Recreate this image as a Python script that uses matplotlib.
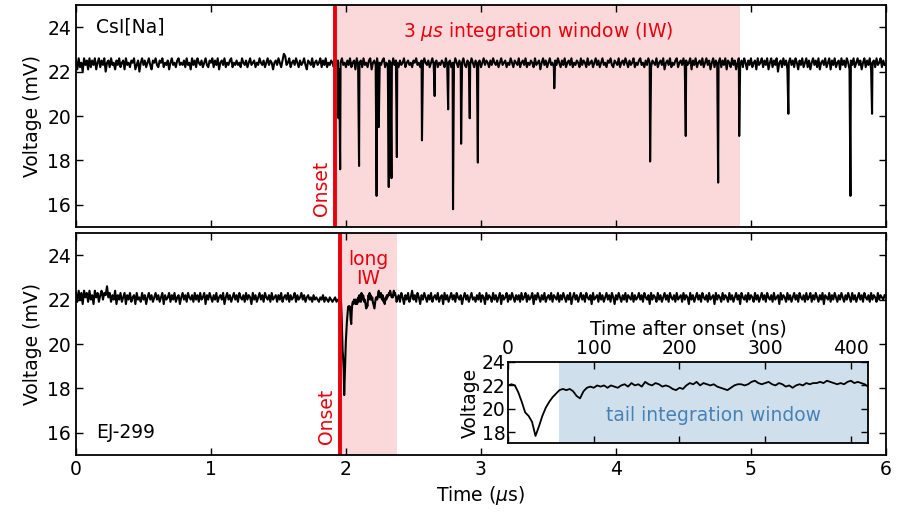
# CsI[Na] vs EJ-299 pulses with integration windows

import numpy as np
import matplotlib.pyplot as plt

# CsI[Na] trace: baseline samples every 10 ns from 0 to 5.99 us (mV)
csi_base = [
    22.5,22.1,22.6,22.2,22.4,22.0,22.6,22.3,22.5,22.1,22.6,22.2,22.5,22.3,22.6,22.1,22.4,22.6,22.2,22.5,22.3,22.6,22.0,22.4,22.5,22.2,22.6,22.3,22.4,22.1,
    22.5,22.3,22.6,22.2,22.4,22.5,22.1,22.6,22.3,22.4,22.2,22.5,22.4,22.6,22.1,22.3,22.5,22.0,22.4,22.6,22.3,22.5,22.2,22.4,22.6,22.3,22.1,22.5,22.4,22.6,
    22.3,22.2,22.5,22.4,22.6,22.2,22.4,22.3,22.5,22.1,22.4,22.6,22.3,22.4,22.2,22.5,22.6,22.3,22.4,22.3,22.5,22.2,22.6,22.3,22.4,22.1,22.6,22.3,22.5,22.2,
    22.6,22.4,22.3,22.5,22.2,22.4,22.6,22.3,22.2,22.5,22.4,22.6,22.2,22.5,22.3,22.6,22.1,22.4,22.5,22.3,22.6,22.2,22.4,22.3,22.5,22.6,22.2,22.4,22.3,22.5,
    22.3,22.4,22.2,22.6,22.4,22.3,22.5,22.2,22.4,22.6,22.3,22.4,22.5,22.2,22.4,22.3,22.6,22.4,22.3,22.5,22.2,22.4,22.6,22.3,22.5,22.4,22.1,22.4,22.5,22.3,
    22.6,22.4,22.2,22.5,22.8,22.7,22.3,22.4,22.6,22.2,22.4,22.5,22.3,22.6,22.4,22.2,22.5,22.3,22.4,22.6,22.3,22.1,22.5,22.4,22.3,22.6,22.2,22.4,22.5,22.3,
    22.4,22.6,22.2,22.5,22.3,22.6,22.2,22.4,22.3,22.5,22.4,22.2,22.6,22.3,22.5,22.1,22.4,22.6,22.3,22.4,22.2,22.5,22.3,22.6,22.2,22.4,22.5,22.1,22.6,22.3,
    22.4,22.5,22.2,22.6,22.3,22.4,22.2,22.5,22.6,22.1,22.4,22.5,22.3,22.6,22.2,22.4,22.3,22.5,22.6,22.2,22.4,22.3,22.5,22.4,22.2,22.6,22.3,22.5,22.4,22.2,
    22.5,22.3,22.4,22.6,22.2,22.4,22.5,22.3,22.4,22.2,22.5,22.4,22.6,22.3,22.4,22.2,22.5,22.3,22.6,22.4,22.3,22.5,22.2,22.4,22.6,22.3,22.4,22.5,22.2,22.4,
    22.3,22.5,22.4,22.2,22.6,22.3,22.4,22.5,22.2,22.4,22.3,22.6,22.4,22.2,22.5,22.3,22.4,22.6,22.3,22.2,22.5,22.4,22.3,22.6,22.4,22.2,22.5,22.3,22.4,22.5,
    22.2,22.4,22.6,22.3,22.5,22.4,22.2,22.5,22.3,22.6,22.4,22.3,22.5,22.2,22.4,22.6,22.3,22.4,22.5,22.2,22.4,22.3,22.6,22.4,22.2,22.5,22.4,22.3,22.6,22.2,
    22.4,22.5,22.3,22.6,22.2,22.4,22.3,22.5,22.4,22.2,22.6,22.3,22.4,22.5,22.1,22.4,22.6,22.3,22.5,22.2,22.4,22.6,22.3,22.4,22.2,22.5,22.3,22.6,22.4,22.2,
    22.5,22.3,22.6,22.2,22.4,22.5,22.3,22.6,22.2,22.4,22.3,22.5,22.4,22.2,22.6,22.3,22.5,22.4,22.2,22.6,22.3,22.4,22.5,22.2,22.4,22.6,22.3,22.5,22.2,22.4,
    22.6,22.3,22.4,22.2,22.5,22.4,22.6,22.3,22.2,22.5,22.4,22.3,22.6,22.2,22.4,22.5,22.3,22.6,22.4,22.2,22.5,22.3,22.4,22.6,22.2,22.4,22.3,22.5,22.6,22.3,
    22.4,22.2,22.5,22.3,22.6,22.4,22.2,22.5,22.4,22.3,22.6,22.2,22.4,22.5,22.3,22.6,22.1,22.4,22.5,22.3,22.6,22.2,22.4,22.3,22.5,22.6,22.2,22.4,22.5,22.3,
    22.6,22.2,22.5,22.3,22.4,22.6,22.1,22.5,22.3,22.6,22.2,22.4,22.5,22.3,22.6,22.2,22.4,22.6,22.3,22.5,22.1,22.4,22.6,22.2,22.5,22.3,22.4,22.6,22.2,22.5,
    22.3,22.6,22.1,22.5,22.4,22.2,22.6,22.3,22.5,22.1,22.4,22.6,22.3,22.5,22.2,22.6,22.4,22.1,22.5,22.3,22.6,22.2,22.4,22.5,22.1,22.6,22.3,22.4,22.6,22.2,
    22.5,22.3,22.6,22.1,22.4,22.6,22.2,22.5,22.3,22.6,22.0,22.4,22.5,22.2,22.6,22.3,22.5,22.1,22.4,22.6,22.3,22.5,22.2,22.6,22.4,22.1,22.5,22.3,22.6,22.2,
    22.4,22.6,22.2,22.5,22.1,22.4,22.6,22.3,22.5,22.2,22.6,22.1,22.4,22.5,22.3,22.6,22.2,22.4,22.6,22.1,22.5,22.3,22.6,22.2,22.4,22.5,22.1,22.6,22.3,22.5,
    22.2,22.6,22.4,22.1,22.5,22.3,22.6,22.2,22.4,22.6,22.3,22.5,22.1,22.4,22.6,22.2,22.5,22.3,22.6,22.1,22.4,22.5,22.2,22.6,22.3,22.4,22.6,22.2,22.5,22.3,
]
# single-photon spikes in the CsI[Na] trace (us, mV)
csi_spike_t = [1.945, 1.957, 2.097, 2.227, 2.243, 2.317, 2.337, 2.377, 2.563, 2.657, 2.757, 2.793,
               2.853, 2.917, 2.977, 3.543, 4.253, 4.517, 4.757, 4.913, 5.277, 5.737, 5.897]
csi_spike_v = [19.9, 17.6, 17.75, 16.4, 19.5, 16.8, 17.2, 18.15, 18.9, 20.9, 20.3, 15.8,
               18.75, 19.9, 17.9, 21.25, 17.95, 19.1, 17.0, 19.1, 20.1, 16.4, 20.1]

# EJ-299 trace: before onset (0 - 1.94 us, 10 ns steps)
ej_pre = [
    22.3,21.9,22.4,22.0,22.3,21.8,22.4,22.1,22.3,21.9,22.4,22.0,22.2,21.8,22.4,22.1,22.3,21.9,22.2,22.4,22.0,22.3,22.2,22.6,22.1,22.3,21.9,22.2,22.0,22.4,
    21.8,22.2,22.0,22.3,21.9,22.1,22.3,21.8,22.2,22.0,22.3,21.9,22.1,22.2,21.8,22.3,22.0,22.1,21.9,22.3,22.0,22.2,21.8,22.1,22.3,22.0,22.2,21.9,22.1,22.3,
    22.0,22.2,21.9,22.1,22.3,21.8,22.2,22.0,22.1,22.3,21.9,22.2,22.0,22.3,21.9,22.1,22.2,21.8,22.1,22.3,22.0,22.2,21.9,22.3,22.1,22.0,22.2,21.9,22.3,22.0,
    22.2,21.9,22.3,22.0,22.1,22.3,21.8,22.2,22.0,22.3,22.1,21.9,22.2,22.0,22.3,21.9,22.1,22.2,22.0,22.3,21.8,22.1,22.3,22.0,22.2,21.9,22.1,22.3,22.0,22.2,
    21.9,22.3,22.1,22.0,22.2,21.9,22.3,22.0,22.2,22.1,21.8,22.3,22.0,22.2,21.9,22.1,22.3,22.0,22.2,21.9,22.3,22.1,22.0,22.2,21.9,22.3,22.0,22.1,22.2,21.9,
    22.2,22.0,22.3,21.9,22.1,22.2,22.0,22.3,21.9,22.2,22.0,22.1,22.3,21.9,22.2,22.0,22.1,22.3,22.0,22.2,21.9,22.1,22.2,22.0,22.1,21.9,22.2,22.0,22.1,22.0,
    21.9,22.1,22.0,22.2,21.9,22.1,22.0,21.9,22.1,22.0,21.9,22.0,22.1,21.9,22.0,
]
# EJ-299 pulse after onset (0 - 420 ns, 4 ns steps)
ej_pulse = [
    22.0, 22.1, 22.0, 21.4, 20.6, 19.7, 19.4, 18.9, 17.7, 18.5, 19.4, 20.1, 20.6, 21.0, 21.3, 21.6,
    21.7, 21.6, 21.7, 21.5, 21.1, 20.9, 21.5, 21.8, 21.9, 21.8, 22.0, 21.9, 22.0, 21.8, 22.0, 21.9,
    21.8, 22.0, 22.1, 21.9, 22.2, 22.0, 22.1, 21.9, 22.3, 22.1, 22.0, 22.2, 22.1, 21.9, 22.0, 21.9,
    21.7, 21.6, 21.8, 21.7, 22.0, 22.2, 22.1, 22.3, 22.0, 22.2, 22.1, 22.0, 22.1, 21.9, 21.8, 21.7,
    21.6, 21.8, 22.0, 22.1, 22.1, 22.0, 22.1, 22.3, 22.4, 22.2, 22.1, 22.2, 22.3, 22.1, 22.0, 22.2,
    22.1, 21.9, 22.0, 21.8, 22.0, 22.1, 22.0, 22.2, 22.1, 22.2, 22.2, 22.3, 22.2, 22.4, 22.3, 22.2,
    22.1, 22.2, 22.1, 22.3, 22.4, 22.2, 22.3, 22.2, 22.1, 21.9,
]
# EJ-299 after the long IW (2.38 - 5.99 us, 10 ns steps)
ej_post = [
    22.0,22.2,21.9,22.3,22.1,21.8,22.2,22.0,22.3,21.9,22.1,22.4,22.0,22.2,21.9,22.3,22.1,21.8,22.2,22.0,22.3,22.1,21.9,22.2,22.0,22.3,21.9,22.1,22.2,22.0,
    22.3,21.9,22.1,22.2,21.8,22.3,22.0,22.2,21.9,22.1,22.3,22.0,22.2,21.9,22.3,22.1,22.0,22.2,21.8,22.1,22.3,22.0,22.2,21.9,22.1,22.3,22.0,22.1,21.9,22.2,
    22.0,22.3,21.9,22.2,22.1,21.8,22.3,22.0,22.2,22.1,21.9,22.3,22.0,22.2,21.9,22.1,22.3,21.8,22.2,22.0,22.1,22.3,21.9,22.2,22.0,22.3,22.1,21.9,22.2,22.0,
    22.2,21.9,22.3,22.0,22.1,22.3,21.9,22.2,22.0,22.1,22.3,21.8,22.2,22.0,22.3,22.1,21.9,22.2,22.0,22.3,21.9,22.1,22.2,22.0,22.3,21.9,22.2,22.1,22.0,22.3,
    21.9,22.2,22.0,22.3,22.1,21.9,22.2,22.0,22.3,21.8,22.1,22.3,22.0,22.2,21.9,22.1,22.3,22.0,22.2,21.9,22.3,22.1,22.0,22.2,21.8,22.3,22.0,22.1,22.2,21.9,
    22.3,22.0,22.2,21.9,22.1,22.3,22.0,22.2,21.9,22.3,22.1,21.8,22.2,22.0,22.3,22.1,21.9,22.2,22.0,22.3,21.9,22.2,22.1,22.0,22.3,21.9,22.2,22.0,22.1,22.3,
    22.0,22.2,21.9,22.3,22.1,22.0,22.2,21.8,22.3,22.0,22.2,22.1,21.9,22.3,22.0,22.2,21.9,22.1,22.3,22.0,22.2,21.9,22.3,22.1,22.0,22.2,21.9,22.3,22.0,22.1,
    22.2,21.9,22.3,22.0,22.2,22.1,21.8,22.3,22.0,22.2,21.9,22.1,22.3,22.0,22.2,21.9,22.3,22.1,22.0,22.2,21.9,22.3,22.0,22.1,22.2,21.8,22.3,22.0,22.2,22.1,
    21.9,22.3,22.0,22.2,22.1,21.9,22.3,22.0,22.2,21.9,22.1,22.3,22.0,22.2,21.8,22.3,22.1,22.0,22.2,21.9,22.3,22.0,22.2,22.1,21.9,22.3,22.0,22.2,21.9,22.1,
    22.3,22.0,22.2,21.9,22.3,22.1,22.0,22.2,21.9,22.3,22.0,22.1,22.2,21.8,22.3,22.0,22.2,22.1,21.9,22.3,22.0,22.2,21.9,22.1,22.3,22.0,22.2,21.9,22.3,22.1,
    22.0,22.2,21.9,22.3,22.0,22.1,22.3,21.9,22.2,22.0,22.3,22.1,21.9,22.2,22.0,22.3,21.8,22.2,22.1,22.0,22.3,21.9,22.2,22.0,22.3,22.1,21.9,22.2,22.0,22.3,
    22.1,21.9,22.2,22.0,22.3,22.1,21.9,22.3,22.0,22.2,21.9,22.1,22.3,22.0,22.2,21.9,22.3,22.1,22.0,22.2,21.9,22.3,22.0,22.2,22.1,21.9,22.3,22.0,22.2,22.1,
    22.0,22.2,
]

csi_onset = 1.92     # us
csi_window = 3.0     # us
ej_onset = 1.955     # us
ej_long_iw = 0.42    # us
tail_start = 60      # ns

# assemble time axes
t_csi = np.concatenate([np.arange(len(csi_base)) * 0.01, csi_spike_t])
v_csi = np.concatenate([csi_base, csi_spike_v])
order = np.argsort(t_csi)
t_csi, v_csi = t_csi[order], v_csi[order]

ns_pulse = np.arange(len(ej_pulse)) * 4
t_ej = np.concatenate([np.arange(len(ej_pre)) * 0.01,
                       ej_onset + ns_pulse / 1000.0,
                       2.38 + np.arange(len(ej_post)) * 0.01])
v_ej = np.concatenate([ej_pre, ej_pulse, ej_post])

red = '#e8000b'
fs = 13.5

fig = plt.figure(figsize=(9, 5.18), dpi=100)
ax1 = fig.add_axes([0.0844, 0.5618, 0.9, 0.4285])
ax2 = fig.add_axes([0.0844, 0.1216, 0.9, 0.4286])

for ax in (ax1, ax2):
    ax.set_xlim(0, 6)
    ax.set_ylim(15, 25)
    ax.set_yticks([16, 18, 20, 22, 24])
    ax.tick_params(direction='in', top=True, right=True, labelsize=fs, length=5, width=1)
    ax.set_ylabel('Voltage (mV)', fontsize=fs)
    for s in ax.spines.values():
        s.set_linewidth(1.3)
ax1.tick_params(labelbottom=False)

# top panel
ax1.axvspan(csi_onset, csi_onset + csi_window, color=red, alpha=0.15, lw=0)
ax1.plot(t_csi, v_csi, color='black', lw=1.5)
ax1.axvline(csi_onset, color=red, lw=2.8)
ax1.text(csi_onset - 0.03, 15.5, 'Onset', rotation=90, color=red, fontsize=fs,
         ha='right', va='bottom')
ax1.text(csi_onset + csi_window / 2, 23.8, r'3 $\mu s$ integration window (IW)',
         color=red, fontsize=fs, ha='center', va='center')
ax1.text(0.025, 0.9, 'CsI[Na]', transform=ax1.transAxes, fontsize=fs, va='center')

# bottom panel
ax2.axvspan(ej_onset, ej_onset + ej_long_iw, color=red, alpha=0.15, lw=0)
ax2.plot(t_ej, v_ej, color='black', lw=1.5)
ax2.axvline(ej_onset, color=red, lw=2.8)
ax2.text(ej_onset - 0.03, 15.5, 'Onset', rotation=90, color=red, fontsize=fs,
         ha='right', va='bottom')
ax2.text(ej_onset + ej_long_iw / 2, 23.4, 'long\nIW', color=red, fontsize=fs,
         ha='center', va='center', linespacing=1.0)
ax2.text(0.025, 0.1, 'EJ-299', transform=ax2.transAxes, fontsize=fs, va='center')
ax2.set_xlabel(r'Time ($\mu$s)', fontsize=fs)

# inset
axi = fig.add_axes([0.5645, 0.1448, 0.4, 0.1565])
axi.axvspan(tail_start, 420, color='steelblue', alpha=0.25, lw=0)
axi.plot(ns_pulse, ej_pulse, color='black', lw=1.3)
axi.set_xlim(0, 420)
axi.set_ylim(17.1, 24)
axi.set_yticks([18, 20, 22, 24])
axi.set_xticks([0, 100, 200, 300, 400])
axi.xaxis.set_label_position('top')
axi.tick_params(direction='in', top=True, right=True, labeltop=True, labelbottom=False,
                labelsize=fs, length=5, width=1)
axi.tick_params(axis='x', pad=3)
axi.tick_params(axis='y', pad=2)
axi.set_xlabel('Time after onset (ns)', fontsize=fs, labelpad=3)
axi.set_ylabel('Voltage', fontsize=fs, labelpad=1)
axi.text(240, 19.4, 'tail integration window', color='steelblue', fontsize=fs,
         ha='center', va='center')
for s in axi.spines.values():
    s.set_linewidth(1.3)

plt.savefig('out.png', dpi=100)
